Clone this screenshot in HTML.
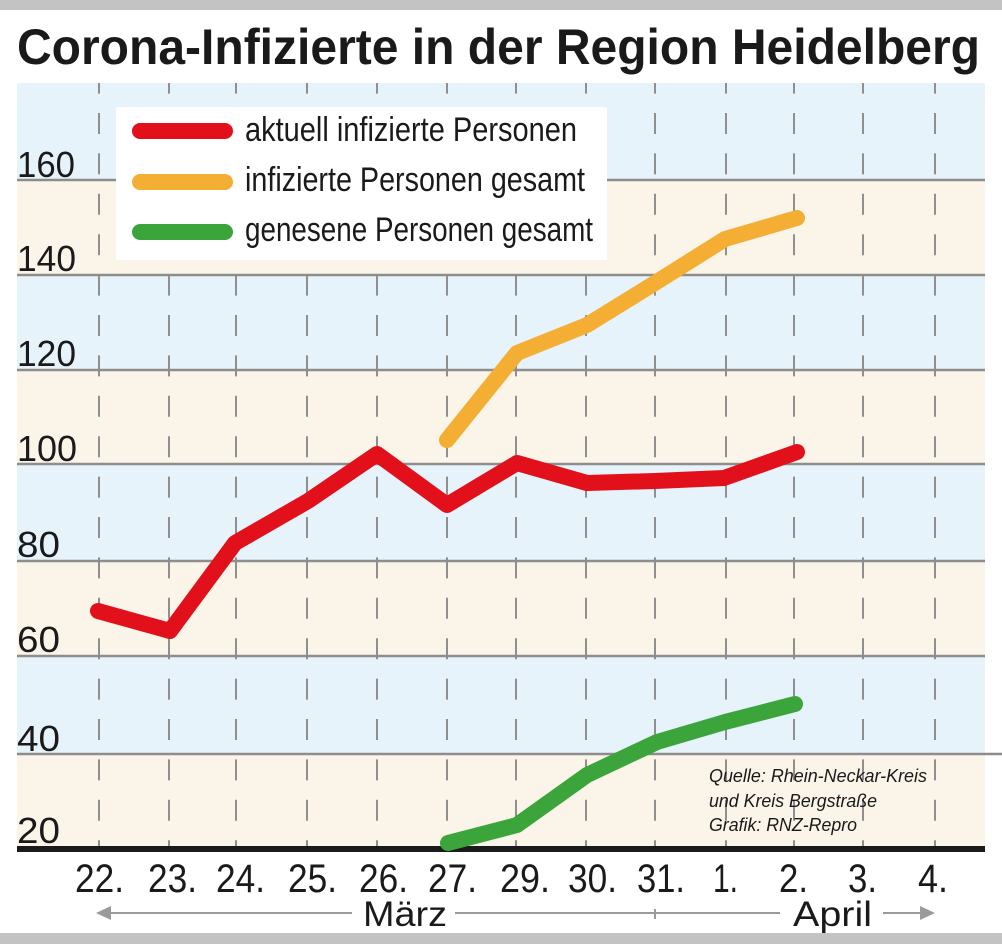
<!DOCTYPE html>
<html><head><meta charset="utf-8"><style>
html,body{margin:0;padding:0;background:#fff;}
svg{display:block;}
text{font-family:"Liberation Sans",sans-serif;fill:#1a1a1a;}
</style></head><body>
<svg width="1002" height="944" viewBox="0 0 1002 944" xmlns="http://www.w3.org/2000/svg">
<rect x="0" y="0" width="1002" height="944" fill="#fff"/>
<rect x="0" y="0" width="1002" height="10" fill="#c3c3c3"/>
<rect x="0" y="933" width="1002" height="11" fill="#c3c3c3"/>

<text x="17" y="64" font-size="50" font-weight="bold" textLength="963" lengthAdjust="spacingAndGlyphs">Corona-Infizierte in der Region Heidelberg</text>

<!-- bands -->
<rect x="17" y="83" width="968" height="97" fill="#e6f3fa"/>
<rect x="17" y="180" width="968" height="95" fill="#fbf5e9"/>
<rect x="17" y="275" width="968" height="95" fill="#e6f3fa"/>
<rect x="17" y="370" width="968" height="94" fill="#fbf5e9"/>
<rect x="17" y="464" width="968" height="97" fill="#e6f3fa"/>
<rect x="17" y="561" width="968" height="95" fill="#fbf5e9"/>
<rect x="17" y="656" width="968" height="98" fill="#e6f3fa"/>
<rect x="17" y="754" width="968" height="94" fill="#fbf5e9"/>

<!-- vertical dashed lines -->
<g stroke="#8f8f8f" stroke-width="2" stroke-dasharray="21 19.4" stroke-dashoffset="10.4">
<line x1="99" y1="83" x2="99" y2="849"/>
<line x1="169" y1="83" x2="169" y2="849"/>
<line x1="236" y1="83" x2="236" y2="849"/>
<line x1="307" y1="83" x2="307" y2="849"/>
<line x1="377" y1="83" x2="377" y2="849"/>
<line x1="447" y1="83" x2="447" y2="849"/>
<line x1="516" y1="83" x2="516" y2="849"/>
<line x1="586" y1="83" x2="586" y2="849"/>
<line x1="655" y1="83" x2="655" y2="849"/>
<line x1="726" y1="83" x2="726" y2="849"/>
<line x1="794" y1="83" x2="794" y2="849"/>
<line x1="863" y1="83" x2="863" y2="849"/>
<line x1="935" y1="83" x2="935" y2="849"/>
</g>

<!-- horizontal grid lines -->
<g stroke="#8d8d8d" stroke-width="2.5">
<line x1="17" y1="180" x2="985" y2="180"/>
<line x1="17" y1="275" x2="985" y2="275"/>
<line x1="17" y1="370" x2="985" y2="370"/>
<line x1="17" y1="464" x2="985" y2="464"/>
<line x1="17" y1="561" x2="985" y2="561"/>
<line x1="17" y1="656" x2="985" y2="656"/>
<line x1="17" y1="754" x2="1002" y2="754"/>
</g>

<!-- y labels -->
<g font-size="36">
<text x="17" y="177" textLength="58" lengthAdjust="spacingAndGlyphs">160</text>
<text x="17" y="271" textLength="59" lengthAdjust="spacingAndGlyphs">140</text>
<text x="17" y="366" textLength="59" lengthAdjust="spacingAndGlyphs">120</text>
<text x="17" y="461" textLength="60" lengthAdjust="spacingAndGlyphs">100</text>
<text x="17" y="557" textLength="43" lengthAdjust="spacingAndGlyphs">80</text>
<text x="17" y="652" textLength="43" lengthAdjust="spacingAndGlyphs">60</text>
<text x="17" y="751" textLength="43" lengthAdjust="spacingAndGlyphs">40</text>
<text x="17" y="843" textLength="43" lengthAdjust="spacingAndGlyphs">20</text>
</g>

<!-- legend -->
<rect x="116" y="107" width="491" height="153" fill="#fff"/>
<g stroke-width="16" stroke-linecap="round">
<line x1="140" y1="131" x2="225" y2="131" stroke="#e2101b"/>
<line x1="140" y1="182" x2="225" y2="182" stroke="#f4ae33"/>
<line x1="140" y1="232" x2="225" y2="232" stroke="#3ba53b"/>
</g>
<g font-size="34">
<text x="245" y="141" textLength="332" lengthAdjust="spacingAndGlyphs">aktuell infizierte Personen</text>
<text x="245" y="191" textLength="340" lengthAdjust="spacingAndGlyphs">infizierte Personen gesamt</text>
<text x="245" y="241" textLength="348" lengthAdjust="spacingAndGlyphs">genesene Personen gesamt</text>
</g>

<!-- axis -->
<rect x="17" y="846" width="968" height="6" fill="#1b1b1b"/>

<!-- source -->
<g font-size="18" font-style="italic">
<text x="709" y="782" textLength="218" lengthAdjust="spacingAndGlyphs">Quelle: Rhein-Neckar-Kreis</text>
<text x="709" y="807" textLength="168" lengthAdjust="spacingAndGlyphs">und Kreis Bergstraße</text>
<text x="709" y="831" textLength="148" lengthAdjust="spacingAndGlyphs">Grafik: RNZ-Repro</text>
</g>

<!-- series -->
<g fill="none" stroke-width="16" stroke-linecap="round" stroke-linejoin="round">
<polyline stroke="#e2101b" points="98,611 170,631 235,543 308,501 377,454 447,505 517,463 587,483 655,481 724,478 797,452"/>
<polyline stroke="#f4ae33" points="447,440 517,353 587,325 655,283 725,239 797,218"/>
<polyline stroke="#3ba53b" points="448,843 517,825 587,775 657,742 725,722 795,704"/>
</g>

<!-- x labels -->
<g font-size="40">
<text x="75" y="892" textLength="49" lengthAdjust="spacingAndGlyphs">22.</text>
<text x="148" y="892" textLength="49" lengthAdjust="spacingAndGlyphs">23.</text>
<text x="216" y="892" textLength="49" lengthAdjust="spacingAndGlyphs">24.</text>
<text x="288" y="892" textLength="49" lengthAdjust="spacingAndGlyphs">25.</text>
<text x="359" y="892" textLength="49" lengthAdjust="spacingAndGlyphs">26.</text>
<text x="428" y="892" textLength="49" lengthAdjust="spacingAndGlyphs">27.</text>
<text x="500" y="892" textLength="50" lengthAdjust="spacingAndGlyphs">29.</text>
<text x="568" y="892" textLength="49" lengthAdjust="spacingAndGlyphs">30.</text>
<text x="637" y="892" textLength="48" lengthAdjust="spacingAndGlyphs">31.</text>
<text x="713" y="892" textLength="25" lengthAdjust="spacingAndGlyphs">1.</text>
<text x="779" y="892" textLength="29" lengthAdjust="spacingAndGlyphs">2.</text>
<text x="848" y="892" textLength="29" lengthAdjust="spacingAndGlyphs">3.</text>
<text x="918" y="892" textLength="30" lengthAdjust="spacingAndGlyphs">4.</text>
</g>

<!-- month arrows -->
<g stroke="#9a9a9a" stroke-width="2">
<line x1="108" y1="913" x2="352" y2="913"/>
<line x1="455" y1="913" x2="780" y2="913"/>
<line x1="655" y1="909" x2="655" y2="919"/>
<line x1="883" y1="913" x2="922" y2="913"/>
</g>
<polygon points="96,913 111,906 111,920" fill="#9a9a9a"/>
<polygon points="935,913 920,906 920,920" fill="#9a9a9a"/>
<g font-size="35">
<text x="363" y="926" textLength="84" lengthAdjust="spacingAndGlyphs">März</text>
<text x="793" y="926" textLength="79" lengthAdjust="spacingAndGlyphs">April</text>
</g>
<rect x="0" y="933" width="1002" height="11" fill="#c3c3c3"/>
</svg>
</body></html>
